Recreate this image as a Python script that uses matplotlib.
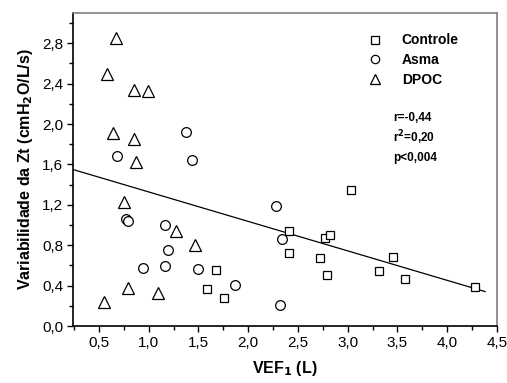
import matplotlib
matplotlib.use("Agg")
import matplotlib.pyplot as plt
from matplotlib.ticker import MultipleLocator, FuncFormatter
from matplotlib.lines import Line2D
import numpy as np

plt.rcParams['font.family'] = ['Liberation Sans', 'DejaVu Sans']

controle_x = [1.68, 1.59, 1.76, 2.41, 2.41, 3.03, 2.77, 2.82, 2.72, 2.79, 3.46, 3.31, 3.58, 4.28]
controle_y = [0.55, 0.37, 0.28, 0.94, 0.72, 1.35, 0.87, 0.90, 0.67, 0.51, 0.68, 0.54, 0.47, 0.39]

asma_x = [1.38, 0.68, 1.44, 2.28, 0.77, 0.79, 1.16, 2.34, 1.19, 0.94, 1.16, 1.50, 1.87, 2.32]
asma_y = [1.92, 1.68, 1.64, 1.19, 1.06, 1.04, 1.00, 0.86, 0.75, 0.57, 0.59, 0.56, 0.41, 0.21]

dpoc_x = [0.67, 0.58, 0.85, 0.99, 0.64, 0.85, 0.87, 0.75, 1.27, 1.47, 0.79, 1.09, 0.55]
dpoc_y = [2.85, 2.50, 2.34, 2.33, 1.91, 1.85, 1.62, 1.23, 0.94, 0.80, 0.38, 0.33, 0.24]

fit_x = [0.24, 4.38]
fit_slope = -0.292
fit_intercept = 1.62

fig = plt.figure(figsize=(5.07, 3.83), dpi=100)
ax = fig.add_axes([73/507, 1-326/383, (497-73)/507, (326-13)/383])

mew = 0.9
ax.plot(controle_x, controle_y, 's', mfc='white', mec='black', mew=mew, ms=6, zorder=3)
ax.plot(asma_x, asma_y, 'o', mfc='white', mec='black', mew=mew, ms=7, zorder=3)
ax.plot(dpoc_x, dpoc_y, '^', mfc='white', mec='black', mew=mew, ms=8, zorder=3)

fx = np.array(fit_x)
ax.plot(fx, fit_intercept + fit_slope*fx, color='black', lw=0.9, zorder=2)

ax.set_xlim(0.24, 4.5)
ax.set_ylim(0, 3.1)
ax.xaxis.set_major_locator(MultipleLocator(0.5))
ax.xaxis.set_minor_locator(MultipleLocator(0.25))
ax.yaxis.set_major_locator(MultipleLocator(0.4))
ax.yaxis.set_minor_locator(MultipleLocator(0.2))
fmt = FuncFormatter(lambda v, p: f"{v:.1f}".replace('.', ','))
ax.xaxis.set_major_formatter(fmt)
ax.yaxis.set_major_formatter(fmt)
ax.tick_params(which='both', direction='out', width=1, colors='black', labelsize=11)
ax.tick_params(which='major', length=4, pad=3)
ax.tick_params(which='minor', length=3)
for s in ['left', 'bottom']:
    ax.spines[s].set_linewidth(1.2)
    ax.spines[s].set_color('black')
for s in ['top', 'right']:
    ax.spines[s].set_linewidth(1.2)
    ax.spines[s].set_color('#808080')

ax.set_xlabel(r'VEF$_\mathbf{1}$ (L)', fontsize=11.5, fontweight='bold', labelpad=7)
ax.set_ylabel(r'Variabilidade da Zt (cmH$_\mathbf{2}$O/L/s)', fontsize=11.5, fontweight='bold', labelpad=5)

handles = [Line2D([], [], ls='none', marker='s', mfc='white', mec='black', ms=5.5, mew=0.9),
           Line2D([], [], ls='none', marker='o', mfc='white', mec='black', ms=6, mew=0.9),
           Line2D([], [], ls='none', marker='^', mfc='white', mec='black', ms=6.5, mew=0.9)]
leg = ax.legend(handles, ['Controle', 'Asma', 'DPOC'], loc='upper left',
                bbox_to_anchor=(368.4/507, 1-33.5/383), bbox_transform=fig.transFigure,
                frameon=False, borderpad=0, borderaxespad=0, handletextpad=1.4,
                labelspacing=0.4, prop={'weight': 'bold', 'size': 10}, handlelength=1.0)

ax.text(393, 383-118, 'r=-0,44', transform=None, fontsize=8.5, fontweight='bold', va='center')
ax.text(393, 383-138, r'r$^\mathbf{2}$=0,20', transform=None, fontsize=8.5, fontweight='bold', va='center')
ax.text(393, 383-158, 'p<0,004', transform=None, fontsize=8.5, fontweight='bold', va='center')

fig.savefig('out.png', dpi=100)
